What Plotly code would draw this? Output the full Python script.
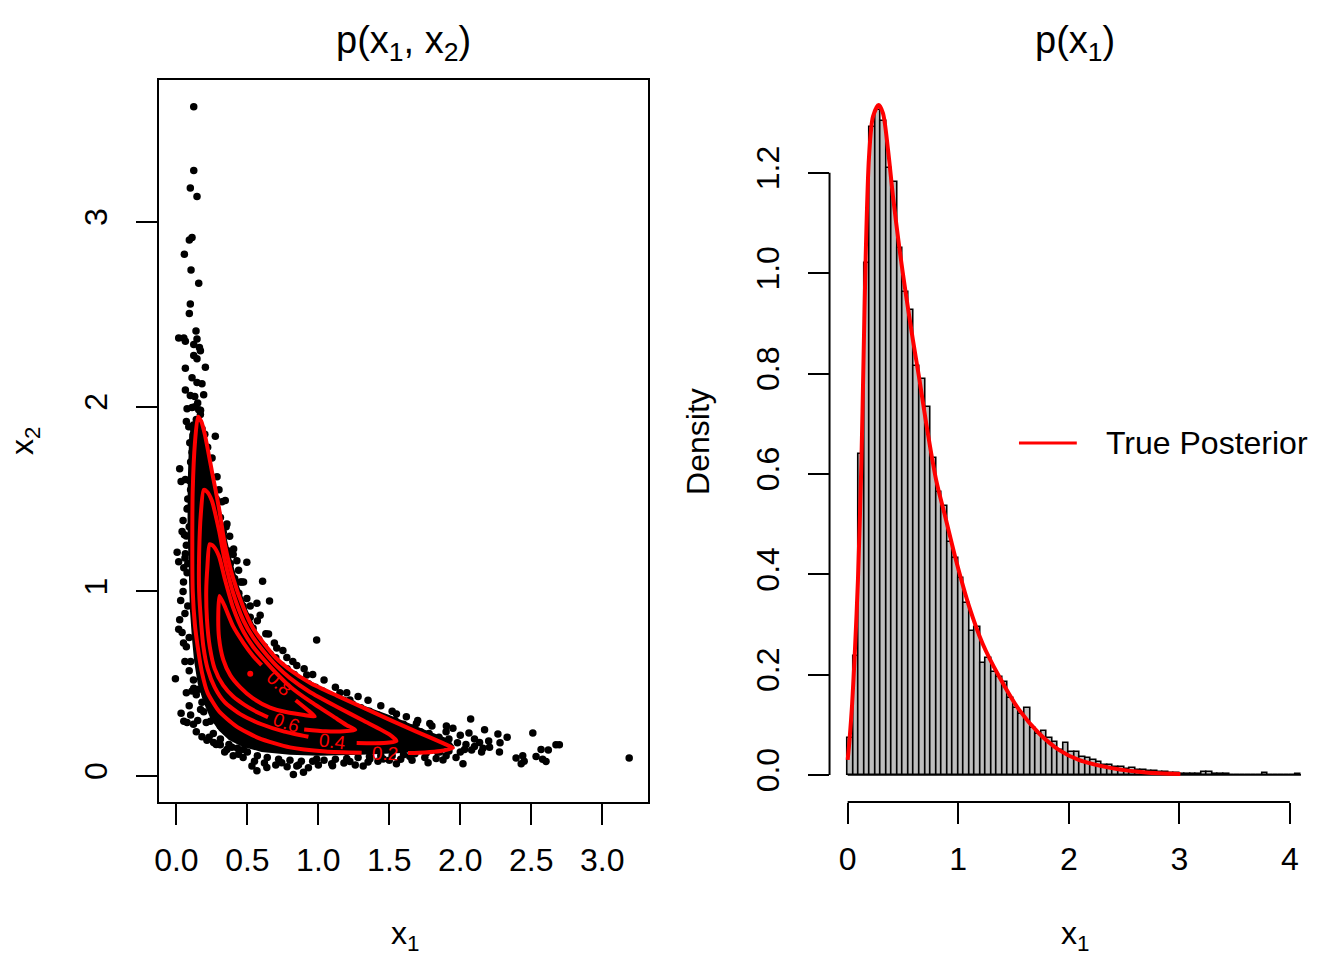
import plotly.graph_objects as go

FONT = "Liberation Sans, Arial, Helvetica, sans-serif"
W, H = 1344, 960

# ---------------- left panel: samples of p(x1, x2) ----------------
samples = [
    (0.122, 3.624), (0.122, 3.279), (0.098, 3.184), (0.145, 3.138), (0.110, 2.916), (0.091, 2.903),
    (0.056, 2.826), (0.103, 2.740), (0.157, 2.668), (0.098, 2.556), (0.091, 2.504), (0.138, 2.410),
    (0.016, 2.372), (0.052, 2.372), (0.063, 2.354), (0.145, 2.367), (0.122, 2.336), (0.162, 2.320),
    (0.169, 2.303), (0.122, 2.277), (0.145, 2.259), (0.063, 2.208), (0.204, 2.213), (0.110, 2.157),
    (0.145, 2.131), (0.180, 2.124), (0.063, 2.090), (0.098, 2.060), (0.192, 2.065), (0.129, 2.055),
    (0.075, 1.988), (0.110, 1.996), (0.157, 1.983), (0.169, 1.958), (0.070, 1.919), (0.087, 1.891),
    (0.122, 1.876), (0.274, 1.840), (0.094, 1.804), (0.110, 1.753), (0.157, 1.779), (0.145, 1.702),
    (0.180, 1.722), (0.251, 1.722), (0.023, 1.664), (0.033, 1.595), (0.063, 1.605), (0.286, 1.620),
    (0.215, 1.587), (0.321, 1.485), (0.344, 1.492), (0.075, 1.446), (0.047, 1.383), (0.040, 1.324),
    (0.056, 1.306), (0.356, 1.365), (0.375, 1.298), (0.005, 1.211), (0.016, 1.160), (0.063, 1.204),
    (0.052, 1.127), (0.403, 1.229), (0.426, 1.165), (0.496, 1.158), (0.047, 0.999), (0.438, 1.114),
    (0.450, 1.050), (0.473, 1.050), (0.607, 1.055), (0.023, 0.846), (0.016, 0.795), (0.040, 0.777),
    (0.496, 0.961), (0.567, 0.935), (0.656, 0.948), (0.520, 0.859), (0.590, 0.871), (0.988, 0.736),
    (-0.007, 0.526), (0.122, 0.475), (0.157, 0.470), (0.033, 0.340), (0.052, 0.296), (0.075, 0.289),
    (0.180, 0.399), (0.192, 0.348), (0.180, 0.212), (0.215, 0.194), (0.239, 0.296), (0.309, 0.271),
    (0.262, 0.181), (0.309, 0.169), (0.356, 0.143), (0.391, 0.156), (0.438, 0.118), (0.473, 0.143),
    (0.532, 0.054), (0.567, 0.028), (0.637, 0.046), (0.742, 0.072), (0.824, 0.008), (0.848, 0.054),
    (0.895, 0.020), (0.988, 0.092), (1.094, 0.066), (1.222, 0.079), (1.316, 0.054), (1.363, 0.092),
    (1.457, 0.092), (1.550, 0.066), (1.644, 0.105), (1.773, 0.072), (1.878, 0.087), (2.019, 0.066),
    (2.073, 0.309), (2.171, 0.250), (2.265, 0.227), (2.276, 0.130), (2.136, 0.181), (2.393, 0.097),
    (2.429, 0.066), (2.511, 0.233), (2.534, 0.105), (2.569, 0.143), (2.604, 0.079), (2.674, 0.169),
    (2.698, 0.169), (3.190, 0.097), (1.691, 0.284), (1.785, 0.284), (1.902, 0.271), (1.948, 0.258),
    (2.061, 0.233), (2.206, 0.156), (2.030, 0.143), (1.855, 0.130), (1.457, 0.309), (1.550, 0.335),
    (1.222, 0.411), (1.152, 0.450), (0.918, 0.547), (0.848, 0.598), (0.778, 0.641), (0.707, 0.693),
    (0.649, 0.769), (2.44, 0.11), (2.45, 0.08), (2.58, 0.09), (2.62, 0.14),
    # upper fringe
    (0.25, 1.62), (0.28, 1.50), (0.31, 1.40), (0.33, 1.32), (0.36, 1.22), (0.38, 1.15), (0.41, 1.07),
    (0.44, 0.99), (0.47, 0.92), (0.50, 0.86), (0.54, 0.80), (0.58, 0.74), (0.62, 0.70), (0.66, 0.66),
    (0.70, 0.64), (0.74, 0.60), (0.78, 0.58), (0.83, 0.55), (0.88, 0.52), (0.93, 0.50), (0.98, 0.48),
    (1.03, 0.46), (1.08, 0.44), (1.13, 0.42), (1.18, 0.41), (1.24, 0.39), (1.30, 0.37), (1.36, 0.35),
    (1.42, 0.33), (1.48, 0.31), (1.54, 0.30), (1.60, 0.28), (1.66, 0.26), (1.72, 0.24), (1.78, 0.23),
    (1.85, 0.21), (1.92, 0.20), (1.98, 0.18), (2.04, 0.17), (2.10, 0.16), (2.16, 0.15),
    (0.30, 1.55), (0.35, 1.35), (0.40, 1.20), (0.46, 1.05), (0.52, 0.92), (0.57, 0.84), (0.63, 0.77),
    (0.69, 0.72), (0.75, 0.68), (0.82, 0.62), (0.90, 0.58), (0.96, 0.55), (1.04, 0.52), (1.12, 0.48),
    (1.20, 0.45), (1.28, 0.43), (1.35, 0.41), (1.44, 0.38), (1.52, 0.35), (1.62, 0.32), (1.70, 0.30),
    (1.80, 0.27), (1.90, 0.24), (2.00, 0.22), (2.10, 0.20), (2.20, 0.19), (2.28, 0.18), (2.33, 0.21),
    # lower fringe
    (0.08, 1.50), (0.07, 1.30), (0.075, 1.10), (0.08, 0.92), (0.09, 0.75), (0.10, 0.62), (0.12, 0.52),
    (0.14, 0.44), (0.17, 0.36), (0.21, 0.29), (0.26, 0.23), (0.31, 0.20), (0.37, 0.17), (0.43, 0.15),
    (0.50, 0.13), (0.57, 0.11), (0.64, 0.10), (0.72, 0.09), (0.80, 0.085), (0.88, 0.08), (0.96, 0.08),
    (1.04, 0.085), (1.12, 0.09), (1.20, 0.095), (1.28, 0.10), (1.36, 0.105), (1.44, 0.11), (1.52, 0.11),
    (1.60, 0.115), (1.68, 0.12), (1.76, 0.125), (1.84, 0.13), (1.92, 0.135), (2.00, 0.13), (2.08, 0.14),
    (2.15, 0.13), (0.05, 1.05), (0.06, 0.88), (0.07, 0.70), (0.09, 0.57), (0.11, 0.46), (0.15, 0.30),
    (0.23, 0.21), (0.28, 0.17), (0.34, 0.13), (0.40, 0.11), (0.47, 0.10), (0.55, 0.08), (0.62, 0.07),
    (0.70, 0.06), (0.78, 0.05), (0.86, 0.06), (0.93, 0.045), (1.00, 0.06), (1.10, 0.055), (1.18, 0.07),
    (1.26, 0.06), (1.35, 0.075), (1.42, 0.08), (1.50, 0.085), (1.58, 0.09), (1.66, 0.085), (1.75, 0.10),
    (1.83, 0.095), (1.90, 0.11), (1.97, 0.10), (0.06, 0.62), (0.07, 0.45), (0.09, 0.38), (0.10, 0.33),
    (0.12, 0.28), (0.14, 0.24), (0.05, 0.72), (0.03, 0.95), (0.06, 1.18),
    # upper spike
    (0.10, 1.70), (0.12, 1.72), (0.14, 1.74), (0.16, 1.70), (0.18, 1.68), (0.20, 1.66), (0.11, 1.80),
    (0.13, 1.82), (0.15, 1.85), (0.17, 1.80), (0.19, 1.77), (0.12, 1.90), (0.14, 1.93), (0.16, 1.90),
    (0.18, 1.88), (0.20, 1.85), (0.22, 1.78), (0.09, 1.60), (0.21, 1.60), (0.23, 1.55), (0.13, 2.00),
    (0.15, 2.02), (0.17, 1.98), (0.10, 1.55), (0.08, 1.45), (0.09, 1.35), (0.07, 1.25), (0.08, 1.15),
    (0.26, 1.50), (0.29, 1.40), (0.31, 1.30), (0.34, 1.20),
]
x1_samples = [p[0] for p in samples]
x2_samples = [p[1] for p in samples]

# saturated (fully overlapping) core of the sample cloud
core_x = [0.09, 0.08, 0.078, 0.085, 0.095, 0.11, 0.125, 0.15, 0.19, 0.24, 0.30, 0.37, 0.46, 0.60, 0.80,
          1.0, 1.3, 1.6, 1.85, 1.96, 1.92, 1.75, 1.50, 1.25, 1.05, 0.88, 0.76, 0.66, 0.57, 0.50, 0.44,
          0.39, 0.35, 0.31, 0.27, 0.23, 0.19, 0.14]
core_y = [1.85, 1.6, 1.35, 1.1, 0.9, 0.74, 0.62, 0.50, 0.40, 0.31, 0.245, 0.195, 0.16, 0.13, 0.115,
          0.11, 0.115, 0.125, 0.14, 0.16, 0.20, 0.25, 0.33, 0.40, 0.47, 0.54, 0.60, 0.68, 0.78, 0.90, 1.03,
          1.17, 1.30, 1.45, 1.60, 1.75, 1.88, 1.94]

# density contours (level 0.2, 0.4, 0.6, 0.8), each broken where its label sits
c02_x = [1.632, 1.75, 1.86, 1.949, 1.878, 1.69, 1.50, 1.316, 1.13, 0.94, 0.80, 0.70, 0.614, 0.54, 0.473,
         0.40, 0.34, 0.30, 0.25, 0.20, 0.175, 0.152, 0.13, 0.115, 0.112, 0.115, 0.13, 0.15, 0.18, 0.22,
         0.30, 0.42, 0.58, 0.80, 1.05, 1.305]
c02_y = [0.124, 0.127, 0.135, 0.152, 0.178, 0.24, 0.305, 0.37, 0.435, 0.505, 0.575, 0.64, 0.72, 0.80, 0.91,
         1.07, 1.26, 1.45, 1.65, 1.85, 1.92, 1.946, 1.80, 1.55, 1.30, 1.0, 0.82, 0.70, 0.56, 0.45,
         0.35, 0.27, 0.205, 0.155, 0.133, 0.126]
c04_x = [1.27, 1.40, 1.50, 1.55, 1.50, 1.316, 1.13, 0.94, 0.80, 0.70, 0.614, 0.54, 0.473, 0.40, 0.34,
         0.30, 0.25, 0.215, 0.192, 0.172, 0.16, 0.16, 0.175, 0.19, 0.22, 0.27, 0.34, 0.45, 0.60, 0.76, 0.93]
c04_y = [0.178, 0.177, 0.181, 0.19, 0.225, 0.30, 0.375, 0.455, 0.53, 0.60, 0.675, 0.75, 0.84, 0.99, 1.17,
         1.33, 1.49, 1.54, 1.549, 1.42, 1.20, 1.0, 0.82, 0.70, 0.58, 0.48, 0.40, 0.335, 0.28, 0.24, 0.212]
c06_x = [0.90, 1.05, 1.18, 1.26, 1.20, 1.13, 0.94, 0.80, 0.70, 0.614, 0.54, 0.473, 0.40, 0.34, 0.30,
         0.26, 0.234, 0.218, 0.21, 0.215, 0.235, 0.27, 0.33, 0.40, 0.48, 0.57, 0.645]
c06_y = [0.252, 0.242, 0.242, 0.25, 0.275, 0.31, 0.405, 0.485, 0.56, 0.632, 0.70, 0.78, 0.91, 1.07, 1.19,
         1.245, 1.255, 1.13, 1.0, 0.85, 0.70, 0.58, 0.49, 0.43, 0.385, 0.345, 0.318]
c08_x = [0.84, 0.92, 0.975, 0.90, 0.78, 0.66, 0.54, 0.45, 0.38, 0.33, 0.30, 0.295, 0.303, 0.34, 0.40,
         0.473, 0.54, 0.60]
c08_y = [0.41, 0.36, 0.322, 0.33, 0.345, 0.37, 0.42, 0.48, 0.545, 0.63, 0.75, 0.88, 0.975, 0.92, 0.81,
         0.72, 0.65, 0.60]
contour_x = [c02_x, c04_x, c06_x, c08_x]
contour_y = [c02_y, c04_y, c06_y, c08_y]

label_text = ["0.8", "0.6", "0.4", "0.2"]
label_x = [0.725, 0.77, 1.10, 1.468]
label_y = [0.50, 0.288, 0.188, 0.122]
label_angle = [43, 19, 7, 2]

mode_x = [0.52]
mode_y = [0.553]

left_xticks = [0.0, 0.5, 1.0, 1.5, 2.0, 2.5, 3.0]
left_xtick_text = ["0.0", "0.5", "1.0", "1.5", "2.0", "2.5", "3.0"]
left_yticks = [0, 1, 2, 3]
left_ytick_text = ["0", "1", "2", "3"]

# ---------------- right panel: histogram of x1 ----------------
bin_width = 0.05
density = [
    0.073, 0.237, 0.640, 1.020, 1.292, 1.325, 1.304, 1.209, 1.181, 1.051,
    0.963, 0.927, 0.815, 0.790, 0.734, 0.631, 0.563, 0.535, 0.464, 0.433,
    0.393, 0.342, 0.287, 0.294, 0.223, 0.234, 0.205, 0.196, 0.186, 0.154,
    0.133, 0.121, 0.133, 0.093, 0.081, 0.088, 0.073, 0.066, 0.050, 0.064,
    0.046, 0.045, 0.036, 0.034, 0.030, 0.025, 0.020, 0.019, 0.016, 0.015,
    0.012, 0.013, 0.010, 0.009, 0.008, 0.007, 0.005, 0.005, 0.004, 0.003,
    0.002, 0.002, 0.001, 0.002, 0.005, 0.006, 0.002, 0.001, 0.001, 0.0,
    0.0, 0.0, 0.0, 0.0, 0.0, 0.004, 0.0, 0.0, 0.0, 0.0,
    0.0, 0.002,
]
bin_mid = [bin_width * (i + 0.5) for i in range(len(density))]
hist_extent = [0.0, 4.1]

curve_x = [0.0, 0.017, 0.04, 0.063, 0.093, 0.124, 0.144, 0.163, 0.193, 0.229, 0.28, 0.319, 0.365,
           0.41, 0.47, 0.53, 0.59, 0.65, 0.71, 0.80, 0.89, 0.98, 1.10, 1.22, 1.37, 1.55, 1.73,
           1.91, 2.09, 2.40, 2.70, 3.01]
curve_y = [0.03, 0.07, 0.14, 0.236, 0.389, 0.621, 0.834, 1.033, 1.232, 1.312, 1.335, 1.319, 1.246,
           1.153, 1.046, 0.953, 0.867, 0.787, 0.701, 0.588, 0.508, 0.428, 0.335, 0.262, 0.196, 0.13,
           0.083, 0.05, 0.03, 0.013, 0.005, 0.002]
legend_label = "True Posterior"

right_xticks = [0, 1, 2, 3, 4]
right_xtick_text = ["0", "1", "2", "3", "4"]
right_yticks = [0.0, 0.2, 0.4, 0.6, 0.8, 1.0, 1.2]
right_ytick_text = ["0.0", "0.2", "0.4", "0.6", "0.8", "1.0", "1.2"]

# ---------------- figure ----------------
fig = go.Figure()

fig.add_trace(go.Scatter(x=core_x, y=core_y, mode="lines", fill="toself", fillcolor="black",
                         line=dict(color="black", width=0), xaxis="x", yaxis="y",
                         showlegend=False, hoverinfo="skip"))
fig.add_trace(go.Scatter(x=x1_samples, y=x2_samples, mode="markers",
                         marker=dict(size=7.5, color="black", line=dict(width=0)),
                         xaxis="x", yaxis="y", showlegend=False))
for cx, cy in zip(contour_x, contour_y):
    fig.add_trace(go.Scatter(x=cx, y=cy, mode="lines",
                             line=dict(color="red", width=4, shape="spline", smoothing=0.6),
                             xaxis="x", yaxis="y", showlegend=False))
fig.add_trace(go.Scatter(x=mode_x, y=mode_y, mode="markers", marker=dict(size=6, color="red"),
                         xaxis="x", yaxis="y", showlegend=False))

fig.add_trace(go.Bar(x=bin_mid, y=density, width=bin_width,
                     marker=dict(color="#BEBEBE", line=dict(color="black", width=1.6)),
                     xaxis="x2", yaxis="y2", showlegend=False))
fig.add_trace(go.Scatter(x=hist_extent, y=[0, 0], mode="lines", line=dict(color="black", width=1.6),
                         xaxis="x2", yaxis="y2", showlegend=False, hoverinfo="skip"))
fig.add_trace(go.Scatter(x=curve_x, y=curve_y, mode="lines", name=legend_label,
                         line=dict(color="red", width=4, shape="spline", smoothing=0.8),
                         xaxis="x2", yaxis="y2", showlegend=False))

annotations = []
for t, lx, ly, ang in zip(label_text, label_x, label_y, label_angle):
    annotations.append(dict(x=lx, y=ly, xref="x", yref="y", text=t, showarrow=False,
                            textangle=ang, font=dict(family=FONT, size=19, color="red")))


def px(xp):
    return xp / W


def py(yp):
    return 1 - yp / H


tfont = dict(family=FONT, size=38, color="black")
afont = dict(family=FONT, size=32, color="black")
annotations += [
    dict(x=px(401), y=py(43), xref="paper", yref="paper", text="p(x<sub>1</sub>, x<sub>2</sub>)",
         showarrow=False, font=tfont, xanchor="center", yanchor="middle"),
    dict(x=px(1074.5), y=py(43), xref="paper", yref="paper", text="p(x<sub>1</sub>)",
         showarrow=False, font=tfont, xanchor="center", yanchor="middle"),
    dict(x=px(402), y=py(935), xref="paper", yref="paper", text="x<sub>1</sub>",
         showarrow=False, font=afont, xanchor="center", yanchor="middle"),
    dict(x=px(1074.5), y=py(935), xref="paper", yref="paper", text="x<sub>1</sub>",
         showarrow=False, font=afont, xanchor="center", yanchor="middle"),
    dict(x=px(20), y=py(441), xref="paper", yref="paper", text="x<sub>2</sub>", textangle=-90,
         showarrow=False, font=afont, xanchor="center", yanchor="middle"),
    dict(x=px(696), y=py(441), xref="paper", yref="paper", text="Density", textangle=-90,
         showarrow=False, font=afont, xanchor="center", yanchor="middle"),
    dict(x=px(1103), y=py(443), xref="paper", yref="paper", text=legend_label,
         showarrow=False, font=afont, xanchor="left", yanchor="middle"),
]

shapes = [
    dict(type="line", xref="x2", yref="y2 domain", x0=right_xticks[0], x1=right_xticks[-1], y0=0, y1=0,
         line=dict(color="black", width=2)),
    dict(type="line", xref="x2 domain", yref="y2", x0=0, x1=0, y0=right_yticks[0], y1=right_yticks[-1],
         line=dict(color="black", width=2)),
    dict(type="line", xref="paper", yref="paper", x0=px(1018), x1=px(1076), y0=py(443), y1=py(443),
         line=dict(color="red", width=3)),
]

tickfont = dict(family=FONT, size=32, color="black")
common = dict(showgrid=False, zeroline=False, ticks="outside", ticklen=21, tickwidth=2,
              tickcolor="black", tickfont=tickfont)

fig.update_layout(
    width=W, height=H, autosize=False,
    margin=dict(l=0, r=0, t=0, b=0, pad=0),
    paper_bgcolor="white", plot_bgcolor="white",
    showlegend=False, bargap=0,
    font=dict(family=FONT, color="black"),
    xaxis=dict(domain=[155 / W, 646 / W], range=[-0.126, 3.323], tickmode="array",
               tickvals=left_xticks, ticktext=left_xtick_text, showline=True, linewidth=2,
               linecolor="black", mirror=True, anchor="y", ticklabelstandoff=8, **common),
    yaxis=dict(domain=[1 - 802 / H, 1 - 80 / H], range=[-0.141, 3.769], tickmode="array",
               tickvals=left_yticks, ticktext=left_ytick_text, tickangle=-90, showline=True,
               linewidth=2, linecolor="black", mirror=True, anchor="x", ticklabelstandoff=16, **common),
    xaxis2=dict(domain=[828 / W, 1319 / W], range=[-0.164, 4.264], tickmode="array",
                tickvals=right_xticks, ticktext=right_xtick_text, showline=False, anchor="y2",
                ticklabelstandoff=8, **common),
    yaxis2=dict(domain=[1 - 802 / H, 1 - 80 / H], range=[-0.054, 1.385], tickmode="array",
                tickvals=right_yticks, ticktext=right_ytick_text, tickangle=-90, showline=False,
                anchor="x2", ticklabelstandoff=16, **common),
    annotations=annotations,
    shapes=shapes,
)

fig.write_html("out.html", config={"displayModeBar": False},
               post_script="document.body.style.margin='0';")
